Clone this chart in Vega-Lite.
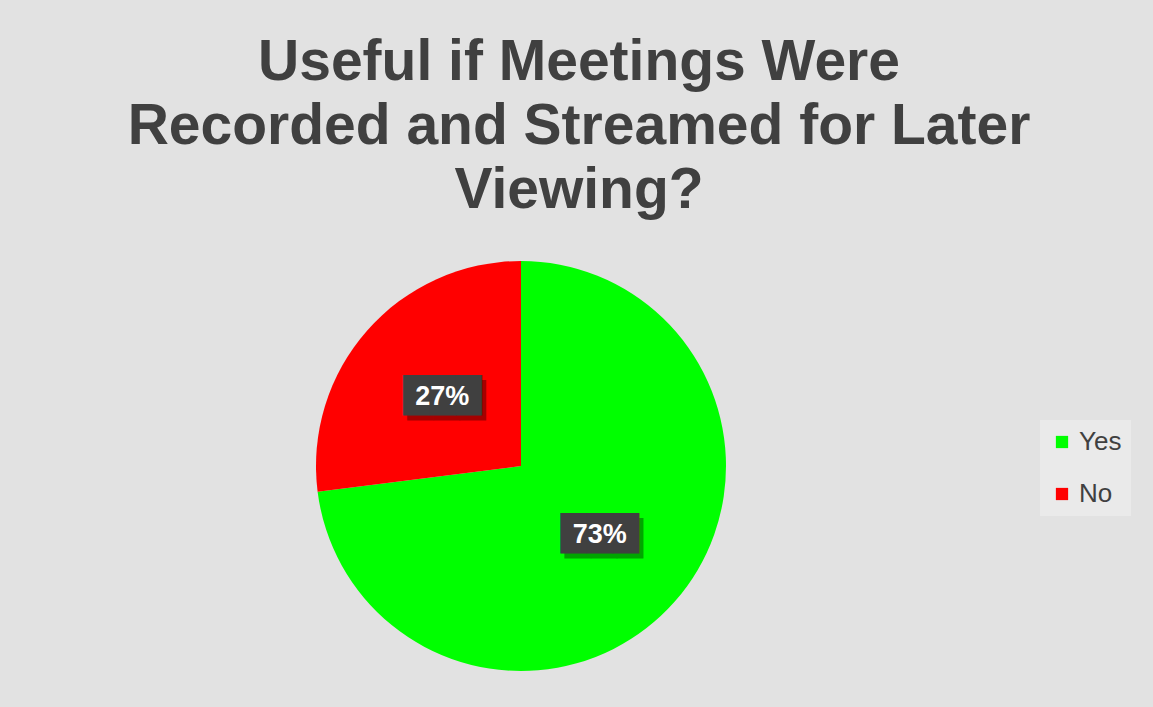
{
  "$schema": "https://vega.github.io/schema/vega-lite/v6.json",
  "width": 1042,
  "height": 410,
  "autosize": {"type": "none"},
  "padding": {"left": 0, "top": 261, "right": 111, "bottom": 36},
  "background": "#e2e2e2",
  "config": {"view": {"stroke": null}},
  "title": {
    "text": ["Useful if Meetings Were", "Recorded and Streamed for Later", "Viewing?"],
    "font": "Liberation Sans",
    "fontSize": 57,
    "fontWeight": "bold",
    "color": "#404040",
    "lineHeight": 64,
    "anchor": "middle",
    "frame": "group",
    "dx": 58,
    "offset": 41
  },
  "data": {
    "values": [
      {"answer": "Yes", "share": 73, "order": 1, "label": "73%"},
      {"answer": "No", "share": 27, "order": 2, "label": "27%"}
    ]
  },
  "encoding": {
    "theta": {"field": "share", "type": "quantitative", "stack": true},
    "order": {"field": "order", "type": "quantitative"}
  },
  "layer": [
    {
      "mark": {"type": "arc", "outerRadius": 205, "stroke": null},
      "encoding": {
        "color": {
          "field": "answer",
          "type": "nominal",
          "scale": {"domain": ["Yes", "No"], "range": ["#00ff00", "#ff0000"]},
          "legend": {
            "title": null,
            "orient": "none",
            "legendX": 1040,
            "legendY": 159,
            "fillColor": "#eaeaea",
            "padding": 9,
            "symbolType": "square",
            "symbolSize": 150,
            "symbolStrokeWidth": 0,
            "labelFont": "Liberation Sans",
            "labelFontSize": 26,
            "labelColor": "#404040",
            "rowPadding": 26,
            "labelOffset": 4
          }
        }
      }
    },
    {
      "mark": {"type": "text", "radius": 105, "text": "███", "font": "DejaVu Sans", "fontSize": 34, "color": "#000000", "opacity": 0.35, "dx": 4, "dy": 5, "baseline": "middle"},
      "encoding": {}
    },
    {
      "mark": {"type": "text", "radius": 105, "text": "███", "font": "DejaVu Sans", "fontSize": 34, "color": "#404040", "baseline": "middle"},
      "encoding": {}
    },
    {
      "mark": {"type": "text", "radius": 105, "font": "Liberation Sans", "fontSize": 27, "fontWeight": "bold", "color": "#ffffff", "baseline": "middle"},
      "encoding": {"text": {"field": "label"}}
    }
  ]
}
